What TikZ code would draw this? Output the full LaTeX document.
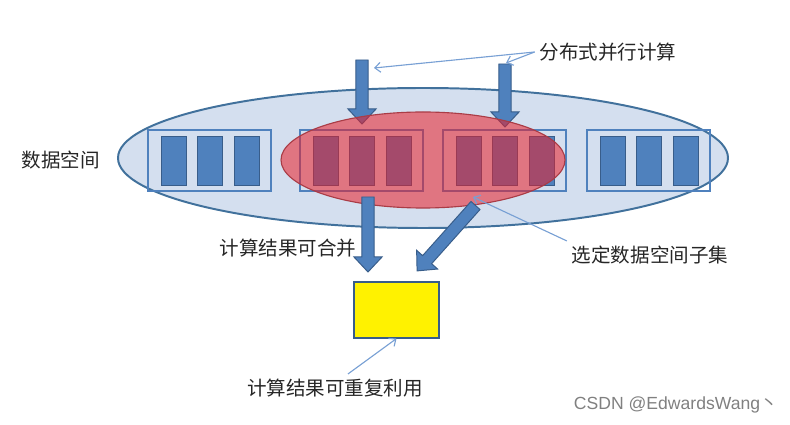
\documentclass[tikz,border=0pt]{standalone}
\usepackage{fontspec}
\setmainfont{Noto Sans CJK SC}
\newfontfamily\latinfont{Liberation Sans}
\usepackage{tikz}
\usetikzlibrary{positioning, arrows.meta, calc}

\definecolor{ellfill}{RGB}{212,223,239}
\definecolor{ellline}{RGB}{65,113,156}
\definecolor{barblue}{RGB}{79,129,189}
\definecolor{barline}{RGB}{56,93,138}
\definecolor{subred}{RGB}{235,30,40}
\definecolor{subline}{RGB}{170,60,70}
\definecolor{linkblue}{RGB}{120,160,212}

\tikzset{
  lbl/.style={font=\fontsize{13.9pt}{16pt}\selectfont, text=black!85},
  groupbox/.style={draw=barblue, line width=1pt},
  databar/.style={draw=barline, fill=barblue, line width=0.7pt},
  blockarrow/.style={draw=barline, fill=barblue, line width=0.7pt, line join=miter},
  callout/.style={draw=linkblue, line width=0.8pt, -{Straight Barb[length=4pt, width=7pt]}}
}

% dicker Blockpfeil von #1 nach #2
\newcommand{\blockarrow}[2]{%
  \draw[blockarrow] let \p1=($(#2)-(#1)$), \n1={atan2(\y1,\x1)}, \n2={veclen(\x1,\y1)} in
    [shift={(#1)}, rotate=\n1]
    (0pt,-4.3pt) -- (\n2-10.7pt,-4.3pt) -- (\n2-10.7pt,-10pt) -- (\n2,0pt)
    -- (\n2-10.7pt,10pt) -- (\n2-10.7pt,4.3pt) -- (0pt,4.3pt) -- cycle;}

\begin{document}
\begin{tikzpicture}[x=0.025cm, y=-0.025cm]
  \useasboundingbox (0,0) rectangle (790,425);

  % Datenraum
  \draw[draw=ellline, fill=ellfill, line width=1.4pt] (423,158) ellipse [x radius=305, y radius=70];
  \foreach \gx in {148,300,443,587} {
    \draw[groupbox] (\gx,130) rectangle ++(123,61);
    \foreach \bx in {13,49.5,86} {
      \draw[databar] (\gx+\bx,136) rectangle ++(25,49);
    }
  }

  % Pfeile von oben
  \coordinate (in1s) at (362,60);
  \coordinate (in1e) at (362,124);
  \coordinate (in2s) at (505,64);
  \coordinate (in2e) at (505,127);
  \blockarrow{in1s}{in1e}
  \blockarrow{in2s}{in2e}

  % Teilmenge
  \draw[draw=subline, fill=subred, fill opacity=0.55, line width=0.8pt] (423,160) ellipse [x radius=142, y radius=48];

  % Ergebnis
  \node[draw=barline, fill=yellow, line width=0.8pt, minimum width=85*0.025cm, minimum height=56*0.025cm, inner sep=0] (result) at (396.5,310) {};
  \coordinate (out1s) at (368,197);
  \coordinate (out1e) at (368,272);
  \coordinate (out2s) at (475.5,205.5);
  \coordinate (out2e) at (417,271);
  \blockarrow{out1s}{out1e}
  \blockarrow{out2s}{out2e}

  % Beschriftungen
  \node[lbl] (space) at (61,160) {数据空间};
  \node[lbl] (par) at (608,52) {分布式并行计算};
  \node[lbl] (merge) at (288,248) {计算结果可合并};
  \node[lbl] (sel) at (650,255) {选定数据空间子集};
  \node[lbl] (reuse) at (335,388) {计算结果可重复利用};
  \node[font=\fontsize{12.5pt}{14pt}\selectfont, text=black!50, anchor=east, inner sep=0] (mark) at (778,405) {{\latinfont CSDN @EdwardsWang}丶};

  \coordinate (t1) at (374,68);
  \coordinate (t2) at (506,63);
  \coordinate (t3) at (473,197);
  \draw[callout] (par.west) -- (t1);
  \draw[callout] (par.west) -- (t2);
  \draw[callout] (sel.north west) -- (t3);
  \draw[callout] ($(reuse.north)+(13,0)$) -- (result.south);
\end{tikzpicture}
\end{document}
